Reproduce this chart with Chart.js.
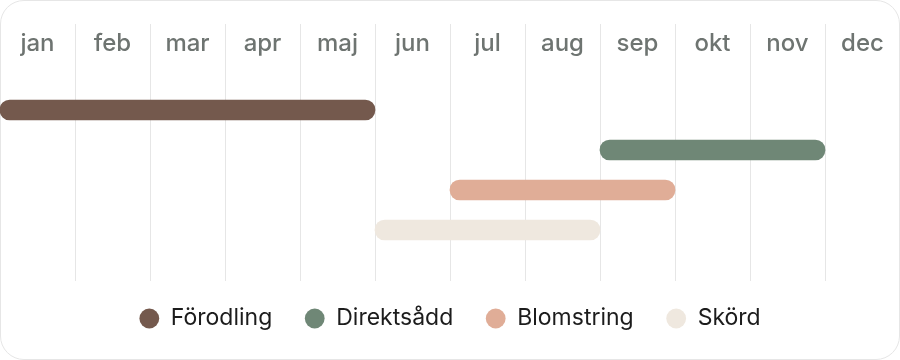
<!DOCTYPE html>
<html>
<head>
<meta charset="utf-8">
<script src="https://cdn.jsdelivr.net/npm/chart.js"></script>
<style>
body { margin: 0; background: #fff; }
#wrap { position: relative; width: 900px; height: 360px; }
#frame { position: absolute; left: 0; top: 0; width: 900px; height: 360px; box-sizing: border-box; border: 1px solid #e6e6e6; border-radius: 24px; }
#myChart { position: absolute; left: 0; top: 0; }
</style>
</head>
<body>
<div id="wrap">
  <div id="frame"></div>
  <canvas id="myChart" width="900" height="360"></canvas>
</div>
<script>
const months = ["jan", "feb", "mar", "apr", "maj", "jun", "jul", "aug", "sep", "okt", "nov", "dec"]
const phases = ["Förodling", "Direktsådd", "Blomstring", "Skörd"]
const startMonth = [0, 8, 6, 5]
const endMonth = [5, 11, 9, 8]
const phaseColors = ["#74594d", "#6f8776", "#e0ad97", "#efe8df"]

Chart.defaults.font.family = "Inter"

// only the inner month borders get a line, not the card edges
const gridColor = (c) => (c.index > 0 ? "#e6e6e6" : "rgba(0,0,0,0)")

const datasets = phases.map((name, i) => {
    return {
        label: name,
        data: phases.map((_, j) => (j === i ? [startMonth[i], endMonth[i]] : null)),
        backgroundColor: phaseColors[i],
        borderWidth: 0,
        borderRadius: 10,
        borderSkipped: false,
        barThickness: 20,
        grouped: false,
        xAxisID: "xv",
        yAxisID: "y"
    }
})

const ctx = document.getElementById("myChart")
new Chart(ctx, {
    type: "bar",
    data: { labels: phases, datasets: datasets },
    options: {
        indexAxis: "y",
        responsive: false,
        animation: false,
        layout: { padding: { top: 24, bottom: 20, left: 0, right: 0 } },
        scales: {
            x: {
                type: "category",
                labels: months,
                position: "top",
                offset: true,
                border: { display: false },
                grid: { offset: true, color: gridColor, tickLength: 66 },
                ticks: {
                    color: "#6e7471",
                    font: { size: 24, weight: "500" },
                    padding: -34,
                    maxRotation: 0,
                    autoSkip: false
                },
                afterFit: (scale) => { scale.height = 66 }
            },
            xb: {
                type: "category",
                labels: months,
                position: "bottom",
                offset: true,
                border: { display: false },
                grid: { offset: true, color: gridColor, tickLength: 31, drawOnChartArea: false },
                ticks: { display: false }
            },
            xv: { type: "linear", min: 0, max: 12, display: false },
            y: { type: "category", offset: true, display: false }
        },
        plugins: {
            tooltip: { enabled: false },
            legend: {
                position: "bottom",
                labels: {
                    usePointStyle: true,
                    pointStyle: "circle",
                    boxWidth: 20,
                    boxHeight: 14,
                    padding: 26,
                    color: "#1c1c1c",
                    font: { size: 23 },
                    generateLabels: (chart) => {
                        const items = Chart.defaults.plugins.legend.labels.generateLabels(chart)
                        items.forEach((item, i) => {
                            if (i < items.length - 1) item.text += " "
                        })
                        return items
                    }
                }
            }
        }
    }
})
</script>
</body>
</html>
